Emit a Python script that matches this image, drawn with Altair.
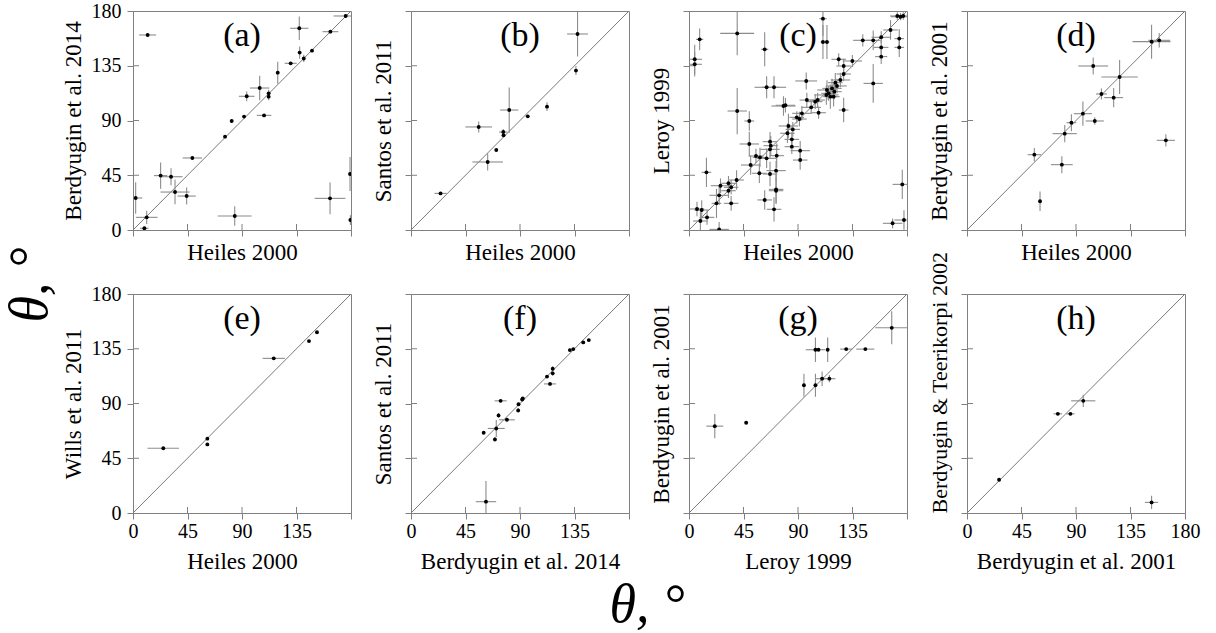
import altair as alt
import pandas as pd

FONT = "Liberation Serif"
GRAY = "#808080"
BAR = "#8c8c8c"
W, H = 218, 219
TICKS = [0, 45, 90, 135, 180]
INNER = [45, 90, 135]

# (a) Heiles 2000 vs Berdyugin et al. 2014
a_x = [12.1, 175.6, 137.3, 163.0, 137.6, 141.0, 147.8, 130.2, 119.5, 104.6, 112.0, 112.0, 93.9, 108.2, 91.7, 81.5, 76.0, 49.0, 22.8, 31.4, 34.7, 44.3, 2.2, 11.3, 9.4, 84.0, 162.7, 179.2, 179.5]
a_y = [160.3, 175.9, 165.8, 163.0, 145.8, 141.0, 147.4, 137.0, 129.3, 116.7, 112.3, 109.6, 109.9, 94.2, 93.2, 89.6, 76.7, 59.2, 44.7, 43.8, 31.2, 27.9, 26.3, 10.4, 1.4, 11.5, 26.0, 46.0, 8.2]
a_xe = [7, 10, 7.5, 6.5, 1, 1, 1, 5, 1, 8, 1, 1, 6.5, 6, 1, 1, 1, 8, 5.5, 9.5, 12, 7.5, 5.5, 9, 3.5, 14, 12.7, 1, 1]
a_ye = [1, 1, 9.6, 1, 5, 3, 1, 1, 9, 10, 3, 3, 4, 1, 1, 1, 1, 1, 10.7, 7, 10, 7, 13, 5.5, 1, 8, 13, 14, 4]

# (b) Heiles 2000 vs Santos et al. 2011
b_x = [24.4, 55.9, 63.3, 70.4, 76.2, 76.4, 81.1, 96.4, 112.3, 136.2, 137.5]
b_y = [30.1, 84.7, 55.9, 65.8, 80.5, 77.8, 98.6, 93.4, 101.4, 131.0, 161.1]
b_xe = [5, 11, 12.6, 1, 3.5, 1, 7.5, 1, 1, 1, 8.6]
b_ye = [1, 4.5, 7, 1, 2.5, 1, 18.6, 1, 3.5, 3.5, 18.5]

# (c) Heiles 2000 vs Leroy 1999
c_x = [8.8, 4.7, 4.7, 39.8, 62.5, 110.6, 110.6, 113.9, 64.1, 70.2, 39.8, 49.8, 96.8, 123.6, 127.7, 134.9, 143.5, 152.1, 158.7, 166.4,
       173.6, 173.6, 158.7, 158.7, 174.7, 176.9, 172.0, 152.1, 127.7, 106.2, 107.0, 100.9, 93.2, 91.2, 89.0, 113.9, 115.3, 118.1, 120.0, 122.2,
       116.7, 125.0, 127.7, 120.8, 113.4, 119.4, 78.0, 79.6, 82.1, 85.7, 81.3, 84.9, 84.9, 66.9, 67.5, 66.9, 72.4, 49.8, 55.3, 58.6,
       64.1, 50.9, 58.1, 66.9, 71.9, 71.9, 71.9, 62.5, 70.2, 91.8, 91.8, 14.4, 39.3, 34.8, 32.6, 32.6, 26.0, 24.9, 22.7, 34.8,
       6.6, 10.5, 14.9, 9.4, 24.9, 176.1, 168.1, 177.5, 97.3, 104.2]
c_y = [156.7, 140.3, 136.2, 161.6, 148.5, 173.7, 154.5, 154.5, 117.3, 117.3, 97.8, 89.6, 122.5, 140.3, 134.8, 138.9, 155.9, 155.9, 158.4, 164.4,
       157.3, 150.1, 150.1, 142.5, 175.3, 175.9, 175.9, 120.5, 98.6, 106.8, 96.4, 100.8, 95.9, 91.2, 92.6, 115.1, 112.3, 116.4, 113.7, 118.4,
       109.6, 123.3, 128.2, 121.1, 111.0, 109.6, 101.9, 102.5, 85.5, 82.7, 79.5, 74.5, 68.5, 72.6, 69.3, 66.3, 61.1, 70.7, 60.8, 59.7,
       58.9, 53.4, 46.6, 46.0, 48.8, 33.4, 32.3, 24.7, 17.0, 65.2, 57.5, 47.4, 41.1, 35.1, 38.4, 32.3, 36.4, 28.5, 21.9, 21.9,
       17.3, 16.4, 10.4, 7.4, 0.5, 37.5, 5.5, 8.2, 106.8, 105.5]
c_xe = [3, 6, 6, 14, 3, 3, 2, 2, 10, 10, 8, 4, 9, 6, 6, 8, 8, 6, 8, 6,
        4, 4, 6, 5, 8, 6, 6, 8, 4, 6, 6, 8, 8, 6, 6, 8, 6, 8, 6, 8,
        6, 8, 6, 6, 10, 5, 10, 8, 8, 6, 6, 6, 6, 6, 6, 8, 6, 8, 6, 6,
        8, 8, 6, 6, 8, 6, 6, 6, 6, 8, 6, 4, 6, 6, 6, 6, 8, 8, 4, 6,
        6, 6, 6, 6, 8, 8, 8, 8, 6, 6]
c_ye = [9, 12, 10, 18, 14, 14, 14, 14, 9, 9, 19, 8, 7, 5, 6, 5, 5, 8, 5, 8,
        8, 8, 6, 6, 3, 3, 3, 16, 10, 6, 5, 5, 6, 6, 5, 8, 6, 8, 6, 6,
        10, 6, 6, 8, 8, 8, 8, 6, 10, 6, 8, 6, 6, 8, 8, 8, 10, 10, 6, 8,
        8, 8, 8, 10, 8, 12, 10, 8, 10, 8, 8, 12, 8, 6, 6, 6, 6, 8, 12, 6,
        6, 8, 6, 8, 6, 12, 4, 8, 6, 6]

# (d) Heiles 2000 vs Berdyugin et al. 2001
d_x = [152.4, 158.7, 104.2, 126.0, 111.0, 121.1, 95.7, 105.5, 86.2, 80.7, 55.6, 78.3, 60.3, 164.2]
d_y = [154.8, 155.9, 134.8, 125.8, 111.8, 108.8, 95.6, 89.6, 88.2, 79.2, 61.9, 53.7, 23.6, 73.7]
d_xe = [15.7, 9, 12.3, 15, 4.5, 7.8, 7.5, 7.5, 4, 10, 5.5, 9, 1, 7.5]
d_ye = [14, 6, 7, 14, 4.5, 8, 10, 3, 7, 7, 5.5, 7, 8, 5]

# (e) Heiles 2000 vs Wills et al. 2011
e_x = [25.0, 61.4, 61.4, 116.2, 145.3, 151.9]
e_y = [53.2, 61.1, 56.4, 127.1, 141.3, 148.6]
e_xe = [13, 1, 1, 9.2, 1, 1]
e_ye = [0.5, 1, 1, 0.5, 1, 1]

# (f) Berdyugin et al. 2014 vs Santos et al. 2011
f_x = [61.9, 60.0, 69.3, 70.4, 72.3, 74.0, 79.2, 88.5, 88.8, 91.8, 92.3, 112.3, 114.8, 117.0, 117.0, 131.2, 134.0, 142.2, 146.8]
f_y = [9.3, 66.0, 60.5, 69.5, 80.2, 92.2, 76.6, 84.3, 89.4, 93.3, 94.1, 112.1, 106.1, 114.8, 118.6, 133.9, 134.7, 140.2, 142.1]
f_xe = [8.4, 1, 1, 7, 1, 5, 6.5, 1, 1, 1, 1, 1, 5, 1, 1, 1, 1, 1, 1]
f_ye = [17, 1, 2, 7, 2, 1, 1, 2, 1, 1, 1, 1, 1, 2, 2, 1, 1, 1, 1]

# (g) Leroy 1999 vs Berdyugin et al. 2001
g_x = [21.3, 47.2, 94.9, 104.4, 109.9, 115.9, 104.4, 106.9, 114.5, 129.8, 145.6, 167.4]
g_y = [71.4, 74.2, 105.0, 105.0, 110.4, 110.4, 134.2, 134.2, 134.2, 134.7, 134.7, 152.2]
g_xe = [7, 1, 1, 1, 5.5, 5, 8, 1, 1, 5, 7.5, 13.6]
g_ye = [10, 1, 9.5, 9.5, 6, 3, 10, 1, 10, 1, 1, 13.6]

# (h) Berdyugin et al. 2001 vs Berdyugin & Teerikorpi 2002
h_x = [26.5, 75.0, 85.4, 96.0, 152.4]
h_y = [27.3, 81.5, 81.5, 92.2, 8.7]
h_xe = [1, 3.5, 3.5, 10, 5.5]
h_ye = [1, 1, 1, 5, 5.5]

LABELS = ["(a)", "(b)", "(c)", "(d)", "(e)", "(f)", "(g)", "(h)"]
XTITLES = ["Heiles 2000", "Heiles 2000", "Heiles 2000", "Heiles 2000",
           "Heiles 2000", "Berdyugin et al. 2014", "Leroy 1999", "Berdyugin et al. 2001"]
YTITLES = ["Berdyugin et al. 2014", "Santos et al. 2011", "Leroy 1999", "Berdyugin et al. 2001",
           "Wills et al. 2011", "Santos et al. 2011", "Berdyugin et al. 2001", "Berdyugin & Teerikorpi 2002"]

AXIS_STYLE = dict(
    domainColor=GRAY, tickColor=GRAY, tickSize=6, grid=False,
    labelFont=FONT, labelFontSize=20, labelColor="black", labelFlush=False, labelOverlap=False,
    titleFont=FONT, titleFontWeight="normal", titleColor="black",
)


def make_panel(xs, ys, xe, ye, idx):
    row, col = divmod(idx, 4)
    df = pd.DataFrame({"x": xs, "y": ys, "xe": xe, "ye": ye})
    sc = alt.Scale(domain=[0, 180], nice=False, zero=False)

    xkw = dict(values=TICKS, title=XTITLES[idx], labels=(row == 1), labelPadding=2,
               titlePadding=(9 if row == 1 else 5), titleFontSize=23, **AXIS_STYLE)
    if row == 1 and col < 3:
        xkw["labelExpr"] = "datum.value == 180 ? '' : datum.label"
    ykw = dict(values=TICKS, title=YTITLES[idx], labels=(col == 0), labelPadding=6,
               titlePadding=(6 if col == 0 else 9), titleFontSize=(22 if idx == 7 else 23), **AXIS_STYLE)
    if idx == 7:
        ykw["titleAnchor"] = "start"
    xaxis = alt.Axis(**xkw)
    yaxis = alt.Axis(**ykw)

    def X(f):
        return alt.X(f, scale=sc, axis=xaxis)

    def Y(f):
        return alt.Y(f, scale=sc, axis=yaxis)

    base = alt.Chart(df)
    pts = base.mark_circle(size=15, color="black", opacity=1, clip=True).encode(
        x=X("x:Q"), y=Y("y:Q"))
    hbar = base.transform_calculate(lo="datum.x - datum.xe", hi="datum.x + datum.xe").mark_rule(
        color=BAR, strokeWidth=1.1, clip=True).encode(x=X("lo:Q"), x2="hi:Q", y=Y("y:Q"))
    vbar = base.transform_calculate(lo="datum.y - datum.ye", hi="datum.y + datum.ye").mark_rule(
        color=BAR, strokeWidth=1.1, clip=True).encode(y=Y("lo:Q"), y2="hi:Q", x=X("x:Q"))
    diag = alt.Chart(pd.DataFrame({"d": [0, 180]})).mark_line(color="#7a7a7a", strokeWidth=1).encode(
        x=X("d:Q"), y=Y("d:Q"))
    tdf = pd.DataFrame({"t": INNER})
    xin = alt.Chart(tdf).mark_rule(color=GRAY, strokeWidth=1).encode(
        x=X("t:Q"), y=alt.value(H), y2=alt.value(H - 6))
    yin = alt.Chart(tdf).mark_rule(color=GRAY, strokeWidth=1).encode(
        y=Y("t:Q"), x=alt.value(0), x2=alt.value(6))
    lab = alt.Chart(pd.DataFrame({"t": [LABELS[idx]]})).mark_text(
        font=FONT, fontSize=34, color="black", align="center", baseline="middle").encode(
        text="t:N", x=alt.value(W / 2), y=alt.value(25))

    layers = [diag, hbar, vbar, xin, yin, pts, lab]
    if idx == 4:
        layers.append(alt.Chart(pd.DataFrame({"t": ["θ, °"]})).mark_text(
            font=FONT, fontSize=54, fontStyle="italic", color="black", angle=270,
            align="center", baseline="middle").encode(
            text="t:N", x=alt.value(-102), y=alt.value(-9)))
    if idx == 5:
        layers.append(alt.Chart(pd.DataFrame({"t": ["θ, °"]})).mark_text(
            font=FONT, fontSize=54, fontStyle="italic", color="black",
            align="center", baseline="middle").encode(
            text="t:N", x=alt.value(236), y=alt.value(312)))
    return alt.layer(*layers).properties(width=W, height=H)


data = [(a_x, a_y, a_xe, a_ye), (b_x, b_y, b_xe, b_ye), (c_x, c_y, c_xe, c_ye), (d_x, d_y, d_xe, d_ye),
        (e_x, e_y, e_xe, e_ye), (f_x, f_y, f_xe, f_ye), (g_x, g_y, g_xe, g_ye), (h_x, h_y, h_xe, h_ye)]
panels = [make_panel(*d, i) for i, d in enumerate(data)]

chart = alt.concat(*panels, columns=4, spacing={"row": 64, "column": 60}, bounds="flush").properties(
    autosize=alt.AutoSizeParams(type="none"),
    padding={"left": 133, "top": 11, "right": 1083, "bottom": 622},
    background="white",
).configure_view(stroke=GRAY, strokeWidth=1).configure_axis(**AXIS_STYLE)

chart.save("out.html", embed_options={"renderer": "svg", "actions": False})
